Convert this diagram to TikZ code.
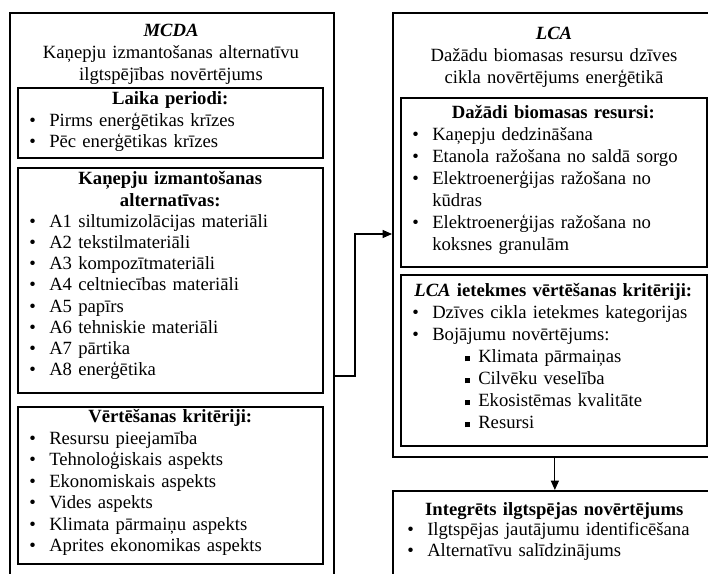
\documentclass[tikz,border=0pt]{standalone}
\usepackage{fontspec}
\setmainfont{Liberation Serif}
\usetikzlibrary{arrows.meta}

\newcommand{\itm}{\makebox[15pt][l]{\textbullet}}
\newcommand{\subitm}{\hspace*{39.75pt}\makebox[9.75pt][l]{\rule[1.3pt]{3.9pt}{3.9pt}}}
\newcommand{\cont}{\hspace*{15pt}}
\newcommand{\hdr}[1]{\makebox[\linewidth]{\bfseries #1}}

\begin{document}
\begin{tikzpicture}[x=0.75pt, y=-0.75pt,
    frame/.style={draw, line width=1.3pt, inner sep=0pt, anchor=north west},
    txt/.style={anchor=base west, inner sep=0pt, align=left, text width=211.5pt,
      font=\fontsize{14pt}{16.5pt}\selectfont},
    ttl/.style={anchor=base, inner sep=0pt, align=center, text width=240pt,
      font=\fontsize{14pt}{16.5pt}\selectfont},
    conn/.style={line width=0.8pt, -{Triangle[length=7pt,width=6pt]}}]
    \useasboundingbox (0,0) rectangle (708,574);
    \clip (0,0) rectangle (708,574);

    % MCDA column
    \node[frame, minimum width=243pt, minimum height=441pt] (mcda) at (9,12) {};
    \node[ttl] (mcdattl) at (171,37) {\textbf{\textit{MCDA}}\\Kaņepju izmantošanas alternatīvu\\ilgtspējības novērtējums};

    \node[frame, minimum width=228.75pt, minimum height=52.5pt] (laika) at (17,87) {};
    \node[txt, font=\fontsize{14pt}{16.1pt}\selectfont] (laikatxt) at (29,105)
      {\hdr{Laika periodi:}\\\itm Pirms enerģētikas krīzes\\\itm Pēc enerģētikas krīzes};

    \node[frame, minimum width=228.75pt, minimum height=168.75pt] (alt) at (17,167) {};
    \node[txt, font=\fontsize{14pt}{15.9pt}\selectfont] (alttxt) at (29,185)
      {\hdr{Kaņepju izmantošanas}\\\hdr{alternatīvas:}\\
       \itm A1 siltumizolācijas materiāli\\
       \itm A2 tekstilmateriāli\\
       \itm A3 kompozītmateriāli\\
       \itm A4 celtniecības materiāli\\
       \itm A5 papīrs\\
       \itm A6 tehniskie materiāli\\
       \itm A7 pārtika\\
       \itm A8 enerģētika};

    \node[frame, minimum width=228.75pt, minimum height=117.75pt] (krit) at (17,406) {};
    \node[txt, font=\fontsize{14pt}{16.1pt}\selectfont] (krittxt) at (29,423)
      {\hdr{Vērtēšanas kritēriji:}\\
       \itm Resursu pieejamība\\
       \itm Tehnoloģiskais aspekts\\
       \itm Ekonomiskais aspekts\\
       \itm Vides aspekts\\
       \itm Klimata pārmaiņu aspekts\\
       \itm Aprites ekonomikas aspekts};

    % LCA column
    \node[frame, minimum width=243pt, minimum height=333pt] (lca) at (392,12) {};
    \node[ttl] (lcattl) at (554,40) {\textbf{\textit{LCA}}\\Dažādu biomasas resursu dzīves\\cikla novērtējums enerģētikā};

    \node[frame, minimum width=229.5pt, minimum height=126.75pt] (res) at (400,97) {};
    \node[txt] (restxt) at (412,119)
      {\hdr{Dažādi biomasas resursi:}\\
       \itm Kaņepju dedzināšana\\
       \itm Etanola ražošana no saldā sorgo\\
       \itm Elektroenerģijas ražošana no\\\cont kūdras\\
       \itm Elektroenerģijas ražošana no\\\cont koksnes granulām};

    \node[frame, minimum width=229.5pt, minimum height=128.25pt] (ietekme) at (400,274) {};
    \node[txt] (ietekmetxt) at (412,297)
      {\hdr{\textit{LCA} ietekmes vērtēšanas kritēriji:}\\
       \itm Dzīves cikla ietekmes kategorijas\\
       \itm Bojājumu novērtējums:\\
       \subitm Klimata pārmaiņas\\
       \subitm Cilvēku veselība\\
       \subitm Ekosistēmas kvalitāte\\
       \subitm Resursi};

    % Integrated assessment
    \node[frame, minimum width=243pt, minimum height=82.5pt] (integ) at (392,490) {};
    \node[txt, text width=220.5pt, font=\fontsize{14pt}{15.75pt}\selectfont] (integtxt) at (407,515)
      {\hdr{Integrēts ilgtspējas novērtējums}\\
       \itm Ilgtspējas jautājumu identificēšana\\
       \itm Alternatīvu salīdzinājums};

    % Connectors
    \coordinate (bendlo) at (355,376);
    \coordinate (bendhi) at (355,234);
    \draw[conn] (bendlo -| mcda.east) -- (bendlo) -- (bendhi) -- (bendhi -| lca.west);
    \draw[conn] (lca.south) -- (integ.north);
\end{tikzpicture}
\end{document}
